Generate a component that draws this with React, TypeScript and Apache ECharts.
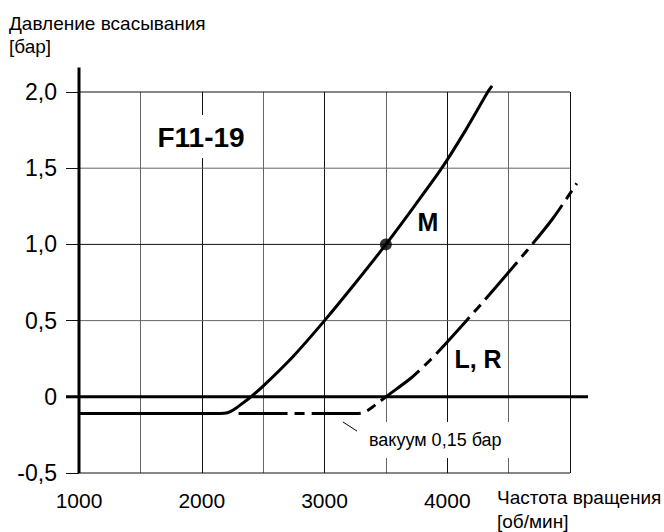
import React, { useEffect, useRef } from "react";
import * as echarts from "echarts";

const X_MIN = 1000;
const X_MAX = 5200;
const X_GRID_END = 5000;
const X_STEP = 500;
const Y_MIN = -0.5;
const Y_MAX = 2.0;
const Y_STEP = 0.5;
const xLabelValues = [1000, 2000, 3000, 4000];
const yLabelValues = [-0.5, 0, 0.5, 1.0, 1.5, 2.0];
const yGridValues = [-0.5, 0.5, 1.0, 1.5, 2.0];
const yGridColors = ["#111", "#666", "#111", "#666", "#111"];

// Curve M (solid)
const curveM: number[][] = [
  [1000, -0.11], [2150, -0.11], [2210, -0.105], [2260, -0.085], [2320, -0.05], [2400, 0],
  [2500, 0.07], [2750, 0.27], [3000, 0.5], [3250, 0.745], [3500, 1.0], [3740, 1.26], [3955, 1.5],
  [4150, 1.75], [4330, 2.0], [4365, 2.04],
];
// Curve L, R (dash-dot)
const curveLR: number[][] = [
  [2300, -0.11], [3250, -0.11], [3310, -0.105], [3360, -0.085], [3420, -0.05], [3500, 0],
  [3700, 0.12], [3860, 0.24], [4000, 0.36], [4300, 0.63], [4650, 0.96], [4860, 1.17],
  [5055, 1.4],
];
const pointM: number[][] = [[3500, 1.0]];
// zero line extends past the axis on both sides (drawn on an auxiliary wider x scale)
const ZERO_X_MIN = 894;
const zeroLine: number[][] = [[894, 0], [5147, 0]];
const yAxisLine: number[][] = [[1000, -0.5], [1000, 2.16]];
const vacuumLeader: number[][] = [[3150, -0.165], [3265, -0.225]];

const FONT = "'Liberation Sans', Arial, Helvetica, sans-serif";
const PX_PER_X = 515.55 / (X_MAX - X_MIN);

export default function App() {
  const ref = useRef<HTMLDivElement>(null);
  useEffect(() => {
    if (!ref.current) return;
    const chart = echarts.init(ref.current, undefined, { renderer: "svg" });
    const lineBase = {
      type: "line" as const,
      symbol: "none",
      clip: false,
      silent: true,
    };
    const hGrid = yGridValues.map((v, i) => ({
      ...lineBase,
      data: [[X_MIN, v], [X_GRID_END, v]],
      lineStyle: { color: yGridColors[i], width: 1 },
      z: 1,
    }));
    const extraLeft = (X_MIN - ZERO_X_MIN) * PX_PER_X;
    chart.setOption({
      animation: false,
      backgroundColor: "#fff",
      grid: [
        { left: 79, top: 92, width: 515.55, height: 381, containLabel: false },
        { left: 79 - extraLeft, top: 92, width: 515.55 + extraLeft, height: 381, containLabel: false },
      ],
      xAxis: [
        {
          type: "value",
          min: X_MIN,
          max: X_MAX,
          interval: X_STEP,
          axisLine: { show: false },
          axisTick: { show: false },
          axisLabel: {
            margin: 17,
            color: "#000",
            fontFamily: FONT,
            fontSize: 21,
            showMaxLabel: false,
            formatter: (v: number) => (xLabelValues.includes(v) ? String(v) : ""),
          },
          splitLine: {
            show: true,
            showMaxLine: false,
            lineStyle: {
              width: 1,
              color: ["#000", "#666", "#111", "#666", "#111", "#666", "#111", "#666", "#111", "#fff"],
            },
          },
        },
        { type: "value", gridIndex: 1, min: ZERO_X_MIN, max: X_MAX, show: false, splitLine: { show: false } },
      ],
      yAxis: [
        {
          type: "value",
          min: Y_MIN,
          max: Y_MAX,
          interval: Y_STEP,
          axisLine: { show: false },
          axisTick: { show: true, length: 13, lineStyle: { color: "#111", width: 1 } },
          axisLabel: {
            margin: 22,
            color: "#000",
            fontFamily: FONT,
            fontSize: 23,
            formatter: (v: number) => {
              const m = yLabelValues.find((y) => Math.abs(y - v) < 1e-9);
              if (m === undefined) return "";
              return m === 0 ? "0" : m.toFixed(1).replace(".", ",");
            },
          },
          splitLine: { show: false },
        },
        { type: "value", gridIndex: 1, min: Y_MIN, max: Y_MAX, show: false, splitLine: { show: false } },
      ],
      series: [
        ...hGrid,
        {
          ...lineBase,
          xAxisIndex: 1,
          yAxisIndex: 1,
          data: zeroLine,
          lineStyle: { color: "#000", width: 3 },
          z: 3,
        },
        { ...lineBase, data: yAxisLine, lineStyle: { color: "#000", width: 3 }, z: 3 },
        { ...lineBase, data: vacuumLeader, lineStyle: { color: "#000", width: 1 }, z: 3 },
        {
          ...lineBase,
          data: curveM,
          smooth: 0.25,
          lineStyle: { color: "#000", width: 3 },
          z: 4,
        },
        {
          ...lineBase,
          data: curveLR,
          smooth: 0.25,
          lineStyle: { color: "#000", width: 3, type: [49, 7, 10, 7] },
          z: 4,
        },
        {
          type: "scatter",
          data: pointM,
          symbolSize: 12,
          itemStyle: { color: "#000" },
          silent: true,
          z: 5,
        },
      ],
      graphic: [
        {
          type: "text",
          left: 9,
          top: 12,
          z: 10,
          style: {
            text: "Давление всасывания\n[бар]",
            font: `19px ${FONT}`,
            fill: "#000",
            lineHeight: 23,
          },
        },
        {
          type: "text",
          left: 497,
          top: 485,
          z: 10,
          style: {
            text: "Частота вращения\n[об/мин]",
            font: `19px ${FONT}`,
            fill: "#000",
            lineHeight: 24,
          },
        },
        { type: "rect", shape: { x: 150, y: 115, width: 105, height: 43 }, style: { fill: "#fff" }, z: 9 },
        {
          type: "text",
          x: 201,
          y: 137,
          z: 10,
          style: { text: "F11-19", font: `bold 28px ${FONT}`, fill: "#000", align: "center", verticalAlign: "middle" },
        },
        {
          type: "text",
          x: 428,
          y: 222,
          z: 10,
          style: { text: "M", font: `bold 25px ${FONT}`, fill: "#000", align: "center", verticalAlign: "middle" },
        },
        {
          type: "text",
          x: 478,
          y: 359,
          z: 10,
          style: { text: "L, R", font: `bold 25px ${FONT}`, fill: "#000", align: "center", verticalAlign: "middle" },
        },
        { type: "rect", shape: { x: 362, y: 422, width: 152, height: 36 }, style: { fill: "#fff" }, z: 9 },
        {
          type: "text",
          x: 369,
          y: 440,
          z: 10,
          style: { text: "вакуум 0,15 бар", font: `18px ${FONT}`, fill: "#000", align: "left", verticalAlign: "middle" },
        },
      ],
    });
    return () => chart.dispose();
  }, []);
  return (
    <div
      ref={ref}
      style={{ position: "absolute", left: 0, top: 0, width: 664, height: 532, background: "#fff" }}
    />
  );
}
